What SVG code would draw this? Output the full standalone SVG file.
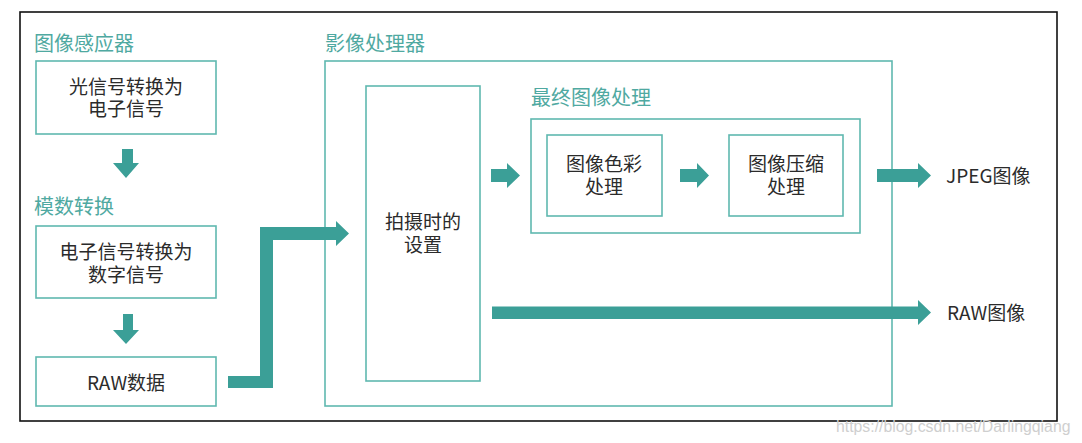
<svg xmlns="http://www.w3.org/2000/svg" width="1082" height="443" viewBox="0 0 1082 443">
<style>
.box{fill:none;stroke:#5fb8b0;stroke-width:1.6}
.ttl{font-family:"Noto Sans CJK SC","Liberation Sans",sans-serif;font-size:20px;fill:#4fa9a1}
.txt{font-family:"Noto Sans CJK SC","Liberation Sans",sans-serif;font-size:19px;fill:#2b2b2b;text-anchor:middle}
.lbl{font-family:"Noto Sans CJK SC","Liberation Sans",sans-serif;font-size:19px;fill:#2b2b2b}
.arr{fill:#3b9f97}
</style>
<rect x="0" y="0" width="1082" height="443" fill="#fff"/>
<rect x="20" y="12" width="1037" height="409" fill="none" stroke="#111" stroke-width="1.6"/>
<g id="sensor-title"><text class="ttl" x="34" y="51">图像感应器</text></g>
<g id="node-light"><rect class="box" x="36" y="61" width="180" height="73"/><text class="txt"><tspan x="126" y="94">光信号转换为</tspan><tspan x="126" y="116">电子信号</tspan></text></g>
<g id="adc-title"><text class="ttl" x="34" y="214">模数转换</text></g>
<g id="node-digital"><rect class="box" x="36" y="226" width="180" height="72"/><text class="txt"><tspan x="126" y="259">电子信号转换为</tspan><tspan x="126" y="282">数字信号</tspan></text></g>
<g id="node-raw"><rect class="box" x="36" y="357" width="180" height="49"/><text class="txt" x="126" y="390">RAW数据</text></g>
<g id="proc-title"><text class="ttl" x="325" y="51">影像处理器</text></g>
<g id="node-processor"><rect class="box" x="325" y="61" width="567" height="345"/></g>
<g id="node-settings"><rect class="box" x="366" y="86" width="114" height="295"/><text class="txt"><tspan x="423" y="229">拍摄时的</tspan><tspan x="423" y="252">设置</tspan></text></g>
<g id="final-title"><text class="ttl" x="531" y="105">最终图像处理</text></g>
<g id="node-final"><rect class="box" x="531" y="119" width="329" height="114"/></g>
<g id="node-color"><rect class="box" x="547" y="135" width="115" height="81"/><text class="txt"><tspan x="604" y="171">图像色彩</tspan><tspan x="604" y="194">处理</tspan></text></g>
<g id="node-compress"><rect class="box" x="729" y="135" width="114" height="81"/><text class="txt"><tspan x="786" y="171">图像压缩</tspan><tspan x="786" y="194">处理</tspan></text></g>
<g id="out-jpeg"><text class="lbl" x="946" y="183">JPEG图像</text></g>
<g id="out-raw"><text class="lbl" x="947" y="320">RAW图像</text></g>
<g id="connectors">
<polygon class="arr" points="122,149 133,149 133,163 139,163 126,178 113,163 122,163"/>
<polygon class="arr" points="123,314 133,314 133,330 139,330 126,344 113,330 123,330"/>
<polygon class="arr" points="228,376 260,376 260,227 336,227 336,221 349,233.5 336,246 336,240 273,240 273,388 228,388"/>
<polygon class="arr" points="491,169 507,169 507,163 520,175.5 507,188 507,182 491,182"/>
<polygon class="arr" points="680,169 697,169 697,163 709,175.5 697,188 697,182 680,182"/>
<polygon class="arr" points="877,169 918,169 918,163 931,175.5 918,188 918,182 877,182"/>
<polygon class="arr" points="492,306.5 918,306.5 918,300 931,312.5 918,325 918,319 492,319"/>
</g>
<text x="836" y="432" font-family="Liberation Sans,sans-serif" font-size="15.8" fill="#cfcfcf">https://blog.csdn.net/Darlingqiang</text>
</svg>
